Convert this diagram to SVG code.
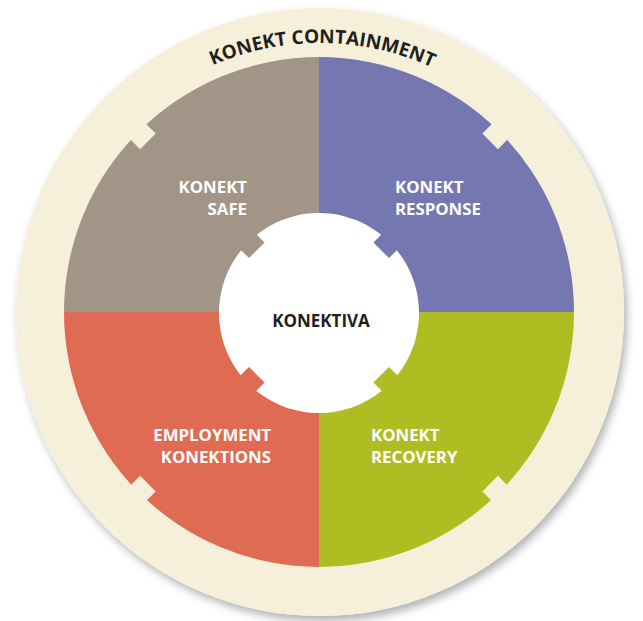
<svg xmlns="http://www.w3.org/2000/svg" width="643" height="621" viewBox="0 0 643 621">
  <defs>
    <filter id="shadow" x="-10%" y="-10%" width="120%" height="120%">
      <feDropShadow dx="3" dy="5" stdDeviation="4" flood-color="#000" flood-opacity="0.3"/>
    </filter>
    <path id="titleArc" d="M 50,313 A 270 270 0 0 1 590,313"/>
  </defs>
  <style>
    .lbl { font-family: "Open Sans", "Liberation Sans", sans-serif; font-weight: bold; font-size: 16.8px; fill: #ffffff; }
    .ctr { font-family: "Open Sans", "Liberation Sans", sans-serif; font-weight: bold; font-size: 17px; fill: #231F20; }
    .ttl { font-family: "Open Sans", "Liberation Sans", sans-serif; font-weight: bold; font-size: 19px; fill: #231F20; }
    .cream { fill: #F6F0DA; }
  </style>

  <g id="containment">
    <circle cx="320" cy="312" r="304" class="cream" filter="url(#shadow)"/>
    <text class="ttl" text-anchor="middle"><textPath href="#titleArc" startOffset="50.3%">KONEKT CONTAINMENT</textPath></text>
  </g>

  <g id="safe">
    <path d="M319,312 L64,312 A255 255 0 0 1 319,57 Z" fill="#A29588"/>
    <rect x="88" y="-11" width="14" height="22" fill="#A29588" transform="translate(319,312.5) rotate(225)"/>
    <text class="lbl" text-anchor="end"><tspan x="247" y="193">KONEKT</tspan><tspan x="247" y="215">SAFE</tspan></text>
  </g>

  <g id="response">
    <path d="M319,312 L319,57 A255 255 0 0 1 574,312 Z" fill="#7577B0"/>
    <rect x="88" y="-11" width="14" height="22" fill="#7577B0" transform="translate(319,312.5) rotate(315)"/>
    <text class="lbl"><tspan x="395" y="193">KONEKT</tspan><tspan x="395" y="215">RESPONSE</tspan></text>
  </g>

  <g id="recovery">
    <path d="M319,312 L574,312 A255 255 0 0 1 319,567 Z" fill="#AFBD22"/>
    <rect x="88" y="-11" width="14" height="22" fill="#AFBD22" transform="translate(319,312.5) rotate(45)"/>
    <text class="lbl"><tspan x="371" y="441">KONEKT</tspan><tspan x="371" y="463">RECOVERY</tspan></text>
  </g>

  <g id="employment">
    <path d="M319,312 L319,567 A255 255 0 0 1 64,312 Z" fill="#DF6B52"/>
    <rect x="88" y="-11" width="14" height="22" fill="#DF6B52" transform="translate(319,312.5) rotate(135)"/>
    <text class="lbl" text-anchor="end"><tspan x="271" y="441">EMPLOYMENT</tspan><tspan x="271" y="463">KONEKTIONS</tspan></text>
  </g>

  <g id="outer-tabs">
    <rect x="242" y="-11" width="16" height="22" class="cream" transform="translate(319,312.5) rotate(45)"/>
    <rect x="242" y="-11" width="16" height="22" class="cream" transform="translate(319,312.5) rotate(135)"/>
    <rect x="242" y="-11" width="16" height="22" class="cream" transform="translate(319,312.5) rotate(225)"/>
    <rect x="242" y="-11" width="16" height="22" class="cream" transform="translate(319,312.5) rotate(315)"/>
  </g>

  <g id="konektiva">
    <path d="M319,213 A100 100 0 1 1 318.99,213 Z" fill="#ffffff"/>
    <rect x="88" y="-11" width="14" height="22" fill="#A29588" transform="translate(319,312.5) rotate(225)"/>
    <rect x="88" y="-11" width="14" height="22" fill="#7577B0" transform="translate(319,312.5) rotate(315)"/>
    <rect x="88" y="-11" width="14" height="22" fill="#AFBD22" transform="translate(319,312.5) rotate(45)"/>
    <rect x="88" y="-11" width="14" height="22" fill="#DF6B52" transform="translate(319,312.5) rotate(135)"/>
    <text class="ctr" x="321" y="327" text-anchor="middle">KONEKTIVA</text>
  </g>
</svg>
